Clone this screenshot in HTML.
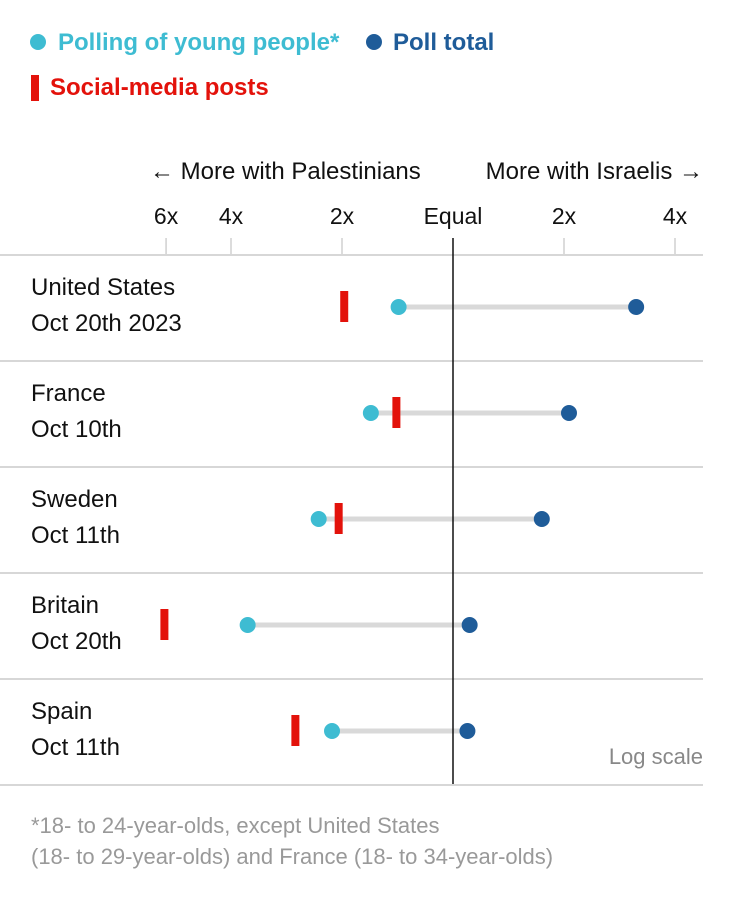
<!DOCTYPE html>
<html><head><meta charset="utf-8"><style>
body{margin:0;background:#fff;width:739px;height:903px;overflow:hidden;font-family:"Liberation Sans",sans-serif;}
svg text{font-family:"Liberation Sans",sans-serif;}
</style></head><body>
<svg id="chart" width="739" height="903">
<g>
<circle cx="38" cy="42" r="8" fill="#3ebcd2"/>
<text x="58" y="50" font-size="24" font-weight="bold" fill="#3ebcd2">Polling of young people*</text>
<circle cx="374" cy="42" r="8" fill="#1f5c99"/>
<text x="393" y="50" font-size="24" font-weight="bold" fill="#1f5c99">Poll total</text>
<rect x="31" y="75" width="8" height="26" fill="#e3120b"/>
<text x="50" y="95" font-size="24" font-weight="bold" fill="#e3120b">Social-media posts</text>
</g>
<text x="150" y="179" font-size="24" fill="#111">← More with Palestinians</text>
<text x="703" y="179" font-size="24" fill="#111" text-anchor="end">More with Israelis →</text>
<g id="grid"></g>
<g id="marks"></g>
<text x="703" y="764" font-size="22" fill="#888" text-anchor="end">Log scale</text>
<text x="31" y="833" font-size="22" fill="#999">*18- to 24-year-olds, except United States</text>
<text x="31" y="864" font-size="22" fill="#999">(18- to 29-year-olds) and France (18- to 34-year-olds)</text>
</svg>
<script>
const countries=["United States","France","Sweden","Britain","Spain"];
const dates=["Oct 20th 2023","Oct 10th","Oct 11th","Oct 20th","Oct 11th"];
// log2 ratio: negative = more with Palestinians
const young=[-0.49,-0.74,-1.21,-1.85,-1.09];
const total=[1.65,1.045,0.80,0.15,0.13];
const social=[-0.98,-0.51,-1.03,-2.60,-1.42];
const tickVals=[-Math.log2(6),-2,-1,0,1,2];
const tickLabels=["6x","4x","2x","Equal","2x","4x"];
const NS="http://www.w3.org/2000/svg";
const x=v=>453+v*111;
const rowY=i=>307+i*106;
function mk(tag,at,parent){const e=document.createElementNS(NS,tag);for(const k in at)e.setAttribute(k,at[k]);parent.appendChild(e);return e;}
const grid=document.getElementById('grid'),marks=document.getElementById('marks');
tickVals.forEach((v,i)=>{
  const t=mk('text',{x:x(v),y:224,'font-size':23,fill:'#111','text-anchor':'middle'},grid);
  
  
  t.textContent=tickLabels[i];
  if(v!==0){const l=mk('line',{x1:x(v),x2:x(v),y1:238,y2:255,stroke:'#d0d0d0','stroke-width':1.5},grid);
  
  }
});
for(let i=0;i<=countries.length;i++){
  const y=255+i*106;
  const l=mk('line',{x1:0,x2:703,y1:y,y2:y,stroke:'#d7d7d7','stroke-width':2},grid);
  
  
}
countries.forEach((c,i)=>{
  const y=rowY(i);
  const g=mk('g',{},marks);
  
  
  const t1=mk('text',{x:31,y:y-12,'font-size':24,fill:'#111'},g);
  
  
  t1.textContent=c;
  const t2=mk('text',{x:31,y:y+24,'font-size':24,fill:'#111'},g);
  
  
  t2.textContent=dates[i];
  const ln=mk('line',{x1:x(young[i]),x2:x(total[i]),y1:y,y2:y,stroke:'#d9d9d9','stroke-width':5},g);
  
  
  const s=mk('rect',{x:x(social[i])-4,y:y-16,width:8,height:31,fill:'#e3120b'},g);
  
  
  const a=mk('circle',{cx:x(young[i]),cy:y,r:8,fill:'#3ebcd2'},g);
  
  
  const b=mk('circle',{cx:x(total[i]),cy:y,r:8,fill:'#1f5c99'},g);
  
  
});
const z=mk('line',{x1:453,x2:453,y1:238,y2:784,stroke:'#111','stroke-width':1.5},marks);


</script>
</body></html>
